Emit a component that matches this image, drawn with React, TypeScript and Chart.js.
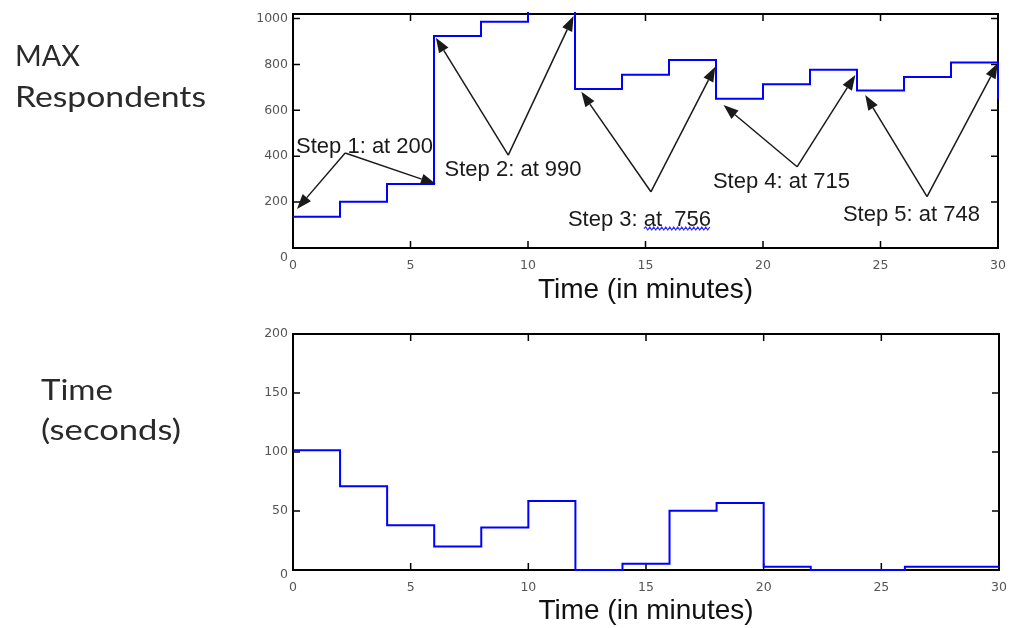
import React, { useEffect, useRef } from 'react';
import { Chart, registerables } from 'chart.js';

Chart.register(...registerables);

// ---------------- data ----------------
const stepMinutes = [0, 2, 4, 6, 8, 10, 12, 14, 16, 18, 20, 22, 24, 26, 28, 30];
const maxRespondents = [136, 202, 279, 924, 986, 1040, 693, 755, 819, 651, 714, 777, 686, 745, 809, 650];
const responseSeconds = [101.5, 71, 38, 20, 36, 58.5, 0, 5.3, 50.3, 56.8, 2.8, 0, 0, 2.8, 2.8, 2.8];

const minuteTicks = [0, 5, 10, 15, 20, 25, 30];
const respondentTicks = [0, 200, 400, 600, 800, 1000];
const secondTicks = [0, 50, 100, 150, 200];
const minuteMax = 30;
const respondentMax = 1020;
const secondMax = 200;

const stepLabels = ['Step 1: at 200', 'Step 2: at 990', 'Step 3: at  756', 'Step 4: at 715', 'Step 5: at 748'];
const stepLabelMinute = [0.13, 6.45, 11.7, 17.87, 23.4];
const stepLabelValue = [415, 314, 96, 260, 119];
const stepVertexMinute = [2.22, 9.16, 15.23, 21.45, 26.98];
const stepVertexValue = [414, 405, 245, 354, 224];
const stepTipAMinute = [0.17, 6.08, 12.27, 18.32, 24.35];
const stepTipAValue = [170, 917, 681, 623, 667];
const stepTipBMinute = [6.08, 11.94, 17.97, 23.93, 29.99];
const stepTipBValue = [279, 1011, 790, 754, 805];
const flaggedLabel = 2;

const topCaption = ['MAX', 'Respondents'];
const bottomCaption = ['Time', '(seconds)'];
const axisTitle = 'Time (in minutes)';

// ---------------- helpers ----------------
const tickColor = '#555555';
const tickFamily = 'DejaVu Sans';
const tickSize = 12.5;

function drawArrow(ctx: CanvasRenderingContext2D, x0: number, y0: number, x1: number, y1: number) {
  const ang = Math.atan2(y1 - y0, x1 - x0);
  const len = 15;
  const half = 5.5;
  const bx = x1 - len * Math.cos(ang);
  const by = y1 - len * Math.sin(ang);
  ctx.beginPath();
  ctx.moveTo(x0, y0);
  ctx.lineTo(bx, by);
  ctx.stroke();
  ctx.beginPath();
  ctx.moveTo(x1, y1);
  ctx.lineTo(bx + half * Math.sin(ang), by - half * Math.cos(ang));
  ctx.lineTo(bx - half * Math.sin(ang), by + half * Math.cos(ang));
  ctx.closePath();
  ctx.fill();
}

function wavy(ctx: CanvasRenderingContext2D, x0: number, x1: number, y: number) {
  ctx.save();
  ctx.strokeStyle = '#2b2bff';
  ctx.lineWidth = 1.2;
  ctx.beginPath();
  ctx.moveTo(x0, y);
  let up = true;
  for (let x = x0 + 2; x <= x1; x += 2) {
    ctx.lineTo(x, up ? y - 1.5 : y + 1.5);
    up = !up;
  }
  ctx.stroke();
  ctx.restore();
}

const notesPlugin = {
  id: 'stepNotes',
  afterDatasetsDraw(chart: any) {
    const ctx: CanvasRenderingContext2D = chart.ctx;
    const xs = chart.scales.x;
    const ys = chart.scales.y;
    const X = (m: number) => xs.getPixelForValue(m);
    const Y = (v: number) => ys.getPixelForValue(v);
    ctx.save();
    ctx.strokeStyle = '#1a1a1a';
    ctx.fillStyle = '#1a1a1a';
    ctx.lineWidth = 1.5;
    stepLabels.forEach((_, i) => {
      const vx = X(stepVertexMinute[i]);
      const vy = Y(stepVertexValue[i]);
      drawArrow(ctx, vx, vy, X(stepTipAMinute[i]), Y(stepTipAValue[i]));
      drawArrow(ctx, vx, vy, X(stepTipBMinute[i]), Y(stepTipBValue[i]));
    });
    ctx.font = '22px "Liberation Sans"';
    ctx.textAlign = 'left';
    ctx.textBaseline = 'alphabetic';
    stepLabels.forEach((label, i) => {
      const tx = X(stepLabelMinute[i]);
      const ty = Y(stepLabelValue[i]);
      ctx.fillText(label, tx, ty);
      if (i === flaggedLabel) {
        const head = label.slice(0, label.indexOf('at'));
        const x0 = tx + ctx.measureText(head).width;
        const x1 = tx + ctx.measureText(label).width;
        wavy(ctx, x0, x1, ty + 2.5);
      }
    });
    ctx.restore();
  },
};

type PanelCfg = {
  key: string;
  values: number[];
  yMax: number;
  yTicks: number[];
  xAxisHeight: number;
  titlePadBottom: number;
  padTop: number;
  padRight: number;
  zeroDrop: number;
  caption: string[];
  captionX: number;
  captionBaselines: number[];
  captionWidths: number[];
  notes: boolean;
};

function framePlugin(cfg: PanelCfg) {
  return {
    id: 'frame' + cfg.key,
    beforeDatasetsDraw(chart: any) {
      const ctx: CanvasRenderingContext2D = chart.ctx;
      const a = chart.chartArea;
      const xs = chart.scales.x;
      const ys = chart.scales.y;
      ctx.save();
      ctx.strokeStyle = '#000';
      ctx.lineWidth = 2;
      ctx.strokeRect(a.left, a.top, a.right - a.left, a.bottom - a.top);
      ctx.lineWidth = 1.5;
      ctx.beginPath();
      for (const t of xs.ticks) {
        const px = xs.getPixelForValue(t.value);
        ctx.moveTo(px, a.bottom);
        ctx.lineTo(px, a.bottom - 7);
        ctx.moveTo(px, a.top);
        ctx.lineTo(px, a.top + 7);
      }
      for (const t of ys.ticks) {
        const py = ys.getPixelForValue(t.value);
        ctx.moveTo(a.left, py);
        ctx.lineTo(a.left + 7, py);
        ctx.moveTo(a.right, py);
        ctx.lineTo(a.right - 7, py);
      }
      ctx.stroke();
      ctx.restore();
    },
    afterDraw(chart: any) {
      const ctx: CanvasRenderingContext2D = chart.ctx;
      const a = chart.chartArea;
      ctx.save();
      ctx.font = `${tickSize}px "${tickFamily}"`;
      ctx.fillStyle = tickColor;
      ctx.textAlign = 'right';
      ctx.textBaseline = 'middle';
      ctx.fillText('0', a.left - 5, a.bottom + cfg.zeroDrop);

      ctx.font = '28px Lato';
      ctx.fillStyle = '#2a2a2a';
      ctx.textAlign = 'left';
      ctx.textBaseline = 'alphabetic';
      cfg.caption.forEach((line, i) => {
        const sx = cfg.captionWidths[i] / ctx.measureText(line).width;
        ctx.save();
        ctx.translate(cfg.captionX, cfg.captionBaselines[i]);
        ctx.scale(sx, 1);
        ctx.fillText(line, 0, 0);
        ctx.restore();
      });
      ctx.restore();
    },
  };
}

function makeConfig(cfg: PanelCfg): any {
  const plugins: any[] = [framePlugin(cfg)];
  if (cfg.notes) plugins.push(notesPlugin);
  return {
    type: 'line',
    data: {
      datasets: [
        {
          data: stepMinutes.map((m, i) => ({ x: m, y: cfg.values[i] })),
          borderColor: '#0000ff',
          borderWidth: 2,
          pointRadius: 0,
          stepped: 'before',
          fill: false,
          clip: 2,
        },
      ],
    },
    options: {
      animation: false,
      responsive: false,
      events: [],
      layout: { padding: { top: cfg.padTop, right: cfg.padRight, left: 0, bottom: 0 } },
      plugins: { legend: { display: false }, tooltip: { enabled: false } },
      scales: {
        x: {
          type: 'linear',
          min: 0,
          max: minuteMax,
          afterBuildTicks: (s: any) => {
            s.ticks = minuteTicks.map((v) => ({ value: v }));
          },
          afterFit: (s: any) => {
            s.height = cfg.xAxisHeight;
            s.paddingLeft = 0;
            s.paddingRight = 0;
            s.paddingTop = 0;
            s.paddingBottom = 0;
          },
          grid: { display: false, drawTicks: false },
          border: { display: false },
          ticks: {
            padding: 10,
            color: tickColor,
            font: { family: tickFamily, size: tickSize },
            maxRotation: 0,
            autoSkip: false,
          },
          title: {
            display: true,
            text: axisTitle,
            color: '#111111',
            font: { family: 'Liberation Sans', size: 28 },
            padding: { top: 0, bottom: cfg.titlePadBottom },
          },
        },
        y: {
          type: 'linear',
          min: 0,
          max: cfg.yMax,
          afterBuildTicks: (s: any) => {
            s.ticks = cfg.yTicks.map((v) => ({ value: v }));
          },
          afterFit: (s: any) => {
            s.width = 293;
            s.paddingLeft = 0;
            s.paddingRight = 0;
            s.paddingTop = 0;
            s.paddingBottom = 0;
          },
          grid: { display: false, drawTicks: false },
          border: { display: false },
          ticks: {
            padding: 5,
            color: tickColor,
            font: { family: tickFamily, size: tickSize },
            autoSkip: false,
            callback: (v: any) => (Number(v) === 0 ? '' : String(v)),
          },
        },
      },
    },
    plugins,
  };
}

const topPanel: PanelCfg = {
  key: 'top',
  values: maxRespondents,
  yMax: respondentMax,
  yTicks: respondentTicks,
  xAxisHeight: 68,
  titlePadBottom: 9,
  padTop: 14,
  padRight: 13,
  zeroDrop: 10,
  caption: topCaption,
  captionX: 15,
  captionBaselines: [66, 107],
  captionWidths: [65, 191],
  notes: true,
};

const bottomPanel: PanelCfg = {
  key: 'bottom',
  values: responseSeconds,
  yMax: secondMax,
  yTicks: secondTicks,
  xAxisHeight: 58,
  titlePadBottom: 0,
  padTop: 18,
  padRight: 12,
  zeroDrop: 5,
  caption: bottomCaption,
  captionX: 41,
  captionBaselines: [84, 124],
  captionWidths: [72, 140],
  notes: false,
};

function Panel({ cfg, top, height }: { cfg: PanelCfg; top: number; height: number }) {
  const ref = useRef<HTMLCanvasElement | null>(null);
  useEffect(() => {
    if (!ref.current) return;
    const chart = new Chart(ref.current, makeConfig(cfg));
    return () => chart.destroy();
  }, [cfg]);
  return (
    <canvas
      ref={ref}
      width={1011}
      height={height}
      style={{ position: 'absolute', left: 0, top, width: 1011, height, display: 'block' }}
    />
  );
}

export default function App() {
  return (
    <div style={{ position: 'absolute', left: 0, top: 0, width: 1011, height: 628, background: '#ffffff', overflow: 'hidden' }}>
      <Panel cfg={topPanel} top={0} height={316} />
      <Panel cfg={bottomPanel} top={316} height={312} />
    </div>
  );
}
